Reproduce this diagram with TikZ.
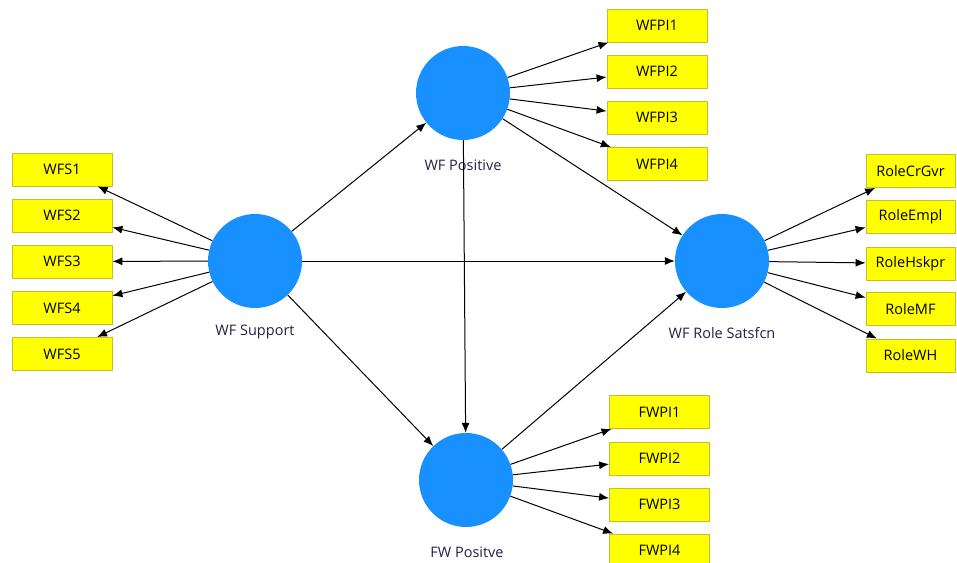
\documentclass[tikz,border=0pt]{standalone}
\usepackage{fontspec}
\setmainfont{Open Sans}
\usetikzlibrary{arrows.meta}
\definecolor{indyellow}{RGB}{255,255,0}
\definecolor{indline}{RGB}{200,190,40}
\definecolor{latblue}{RGB}{24,144,255}
\definecolor{labcol}{RGB}{40,30,70}
\tikzset{
  ind/.style={draw=indline, fill=indyellow, line width=0.8pt, minimum width=100pt, minimum height=33pt, inner sep=0pt, font=\fontsize{14.5}{16}\selectfont, text=black},
  lat/.style={circle, fill=latblue, minimum size=94pt, inner sep=0pt},
  lbl/.style={font=\fontsize{14.5}{16}\selectfont, text=labcol, inner sep=0pt},
  arr/.style={-{Latex[length=10pt,width=8pt]}, line width=1pt, black}
}
\begin{document}
\begin{tikzpicture}[x=1pt,y=-1pt]
\useasboundingbox (0,0) rectangle (957,562);
% latent variables
\node[lat] (sup) at (255,261) {};
\node[lat] (pos) at (463,93) {};
\node[lat] (role) at (722,261) {};
\node[lat] (fw) at (466,480) {};
% labels
\node[lbl] (supl) at (255,332) {WF Support};
\node[lbl] (posl) at (463,165) {WF Positive};
\node[lbl] (rolel) at (722,333) {WF Role Satsfcn};
\node[lbl] (fwl) at (467,552) {FW Positve};
% WFS indicators
\node[ind] (wfs1) at (62,169.5) {WFS1};
\node[ind] (wfs2) at (62,215.5) {WFS2};
\node[ind] (wfs3) at (62,261.5) {WFS3};
\node[ind] (wfs4) at (62,308) {WFS4};
\node[ind] (wfs5) at (62,354) {WFS5};
% WFPI indicators
\node[ind] (wfpi1) at (657,25.5) {WFPI1};
\node[ind] (wfpi2) at (657,71.5) {WFPI2};
\node[ind] (wfpi3) at (657,117.5) {WFPI3};
\node[ind] (wfpi4) at (657,164) {WFPI4};
% Role indicators
\node[ind, minimum width=89pt] (r1) at (910.5,171) {RoleCrGvr};
\node[ind, minimum width=89pt] (r2) at (910.5,217) {RoleEmpl};
\node[ind, minimum width=89pt] (r3) at (910.5,263.5) {RoleHskpr};
\node[ind, minimum width=89pt] (r4) at (910.5,309) {RoleMF};
\node[ind, minimum width=89pt] (r5) at (910.5,355.5) {RoleWH};
% FWPI indicators
\node[ind] (fwpi1) at (659.5,412) {FWPI1};
\node[ind] (fwpi2) at (659.5,458.5) {FWPI2};
\node[ind] (fwpi3) at (659.5,504.5) {FWPI3};
\node[ind] (fwpi4) at (659.5,550.5) {FWPI4};
% structural paths
\draw[arr] (sup) -- (pos);
\draw[arr] (sup) -- (role);
\draw[arr] (sup) -- (fw);
\draw[arr] (pos) -- (role);
\draw[arr] (pos) -- (fw);
\draw[arr] (fw) -- (role);
% measurement paths
\foreach \n in {wfs1,wfs2,wfs3,wfs4,wfs5} {\draw[arr] (sup) -- (\n);}
\foreach \n in {wfpi1,wfpi2,wfpi3,wfpi4} {\draw[arr] (pos) -- (\n);}
\foreach \n in {r1,r2,r3,r4,r5} {\draw[arr] (role) -- (\n);}
\foreach \n in {fwpi1,fwpi2,fwpi3,fwpi4} {\draw[arr] (fw) -- (\n);}
\end{tikzpicture}
\end{document}
